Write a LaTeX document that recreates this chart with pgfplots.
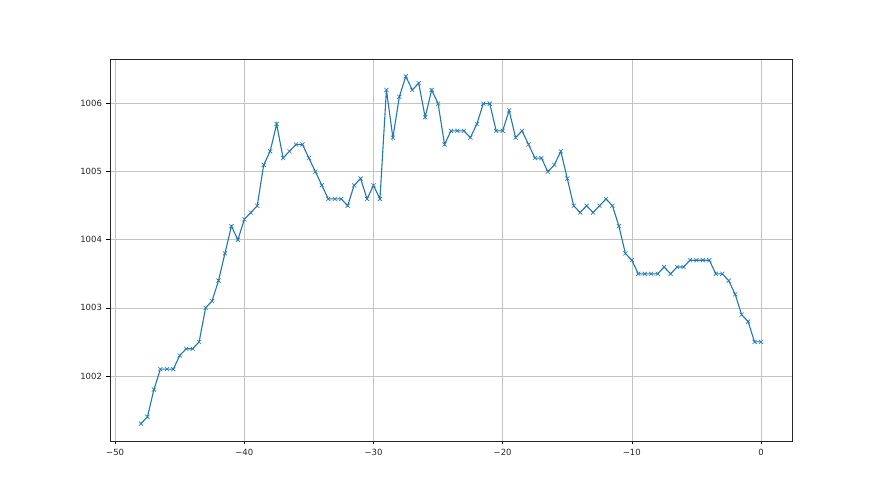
\documentclass[border=0pt]{standalone}
\usepackage{pgfplots}
\pgfplotsset{compat=1.18}
\usepackage{fontspec}
\setmainfont{DejaVu Sans}
\usetikzlibrary{calc}
\definecolor{mplblue}{HTML}{1F77B4}
\definecolor{gridgray}{HTML}{C4C4C4}
\begin{document}
\begin{tikzpicture}
\begin{axis}[
  name=ax,
  scale only axis,
  width=682pt, height=382pt,
  xmin=-50.4, xmax=2.4,
  ymin=1001.045, ymax=1006.655,
  xtick={-50,-40,-30,-20,-10,0},
  xticklabels={−50,−40,−30,−20,−10,0},
  ytick={1002,1003,1004,1005,1006},
  yticklabels={1002,1003,1004,1005,1006},
  tick align=outside,
  tick pos=left,
  major tick length=3.5pt,
  every tick/.style={black, line width=0.6pt},
  grid=major,
  grid style={gridgray, line width=0.6pt},
  axis line style={black!85, line width=0.6pt},
  tick label style={font=\fontsize{8.5}{10}\selectfont, text=black!85},
  xticklabel style={yshift=-1pt},
  yticklabel style={xshift=-1pt},
]
\addplot[mplblue, line width=1.1pt, mark=x, mark size=2.9pt, mark options={line width=0.6pt}] coordinates {
(-48,1001.3) (-47.5,1001.4) (-47,1001.8) (-46.5,1002.1) (-46,1002.1) (-45.5,1002.1)
(-45,1002.3) (-44.5,1002.4) (-44,1002.4) (-43.5,1002.5) (-43,1003.0) (-42.5,1003.1)
(-42,1003.4) (-41.5,1003.8) (-41,1004.2) (-40.5,1004.0) (-40,1004.3) (-39.5,1004.4)
(-39,1004.5) (-38.5,1005.1) (-38,1005.3) (-37.5,1005.7) (-37,1005.2) (-36.5,1005.3)
(-36,1005.4) (-35.5,1005.4) (-35,1005.2) (-34.5,1005.0) (-34,1004.8) (-33.5,1004.6)
(-33,1004.6) (-32.5,1004.6) (-32,1004.5) (-31.5,1004.8) (-31,1004.9) (-30.5,1004.6)
(-30,1004.8) (-29.5,1004.6) (-29,1006.2) (-28.5,1005.5) (-28,1006.1) (-27.5,1006.4)
(-27,1006.2) (-26.5,1006.3) (-26,1005.8) (-25.5,1006.2) (-25,1006.0) (-24.5,1005.4)
(-24,1005.6) (-23.5,1005.6) (-23,1005.6) (-22.5,1005.5) (-22,1005.7) (-21.5,1006.0)
(-21,1006.0) (-20.5,1005.6) (-20,1005.6) (-19.5,1005.9) (-19,1005.5) (-18.5,1005.6)
(-18,1005.4) (-17.5,1005.2) (-17,1005.2) (-16.5,1005.0) (-16,1005.1) (-15.5,1005.3)
(-15,1004.9) (-14.5,1004.5) (-14,1004.4) (-13.5,1004.5) (-13,1004.4) (-12.5,1004.5)
(-12,1004.6) (-11.5,1004.5) (-11,1004.2) (-10.5,1003.8) (-10,1003.7) (-9.5,1003.5)
(-9,1003.5) (-8.5,1003.5) (-8,1003.5) (-7.5,1003.6) (-7,1003.5) (-6.5,1003.6)
(-6,1003.6) (-5.5,1003.7) (-5,1003.7) (-4.5,1003.7) (-4,1003.7) (-3.5,1003.5)
(-3,1003.5) (-2.5,1003.4) (-2,1003.2) (-1.5,1002.9) (-1,1002.8) (-0.5,1002.5)
(0,1002.5)
};
\end{axis}
\path[use as bounding box] ($(ax.south west)+(-110pt,-54pt)$) rectangle ($(ax.north east)+(88pt,59pt)$);
\end{tikzpicture}
\end{document}
